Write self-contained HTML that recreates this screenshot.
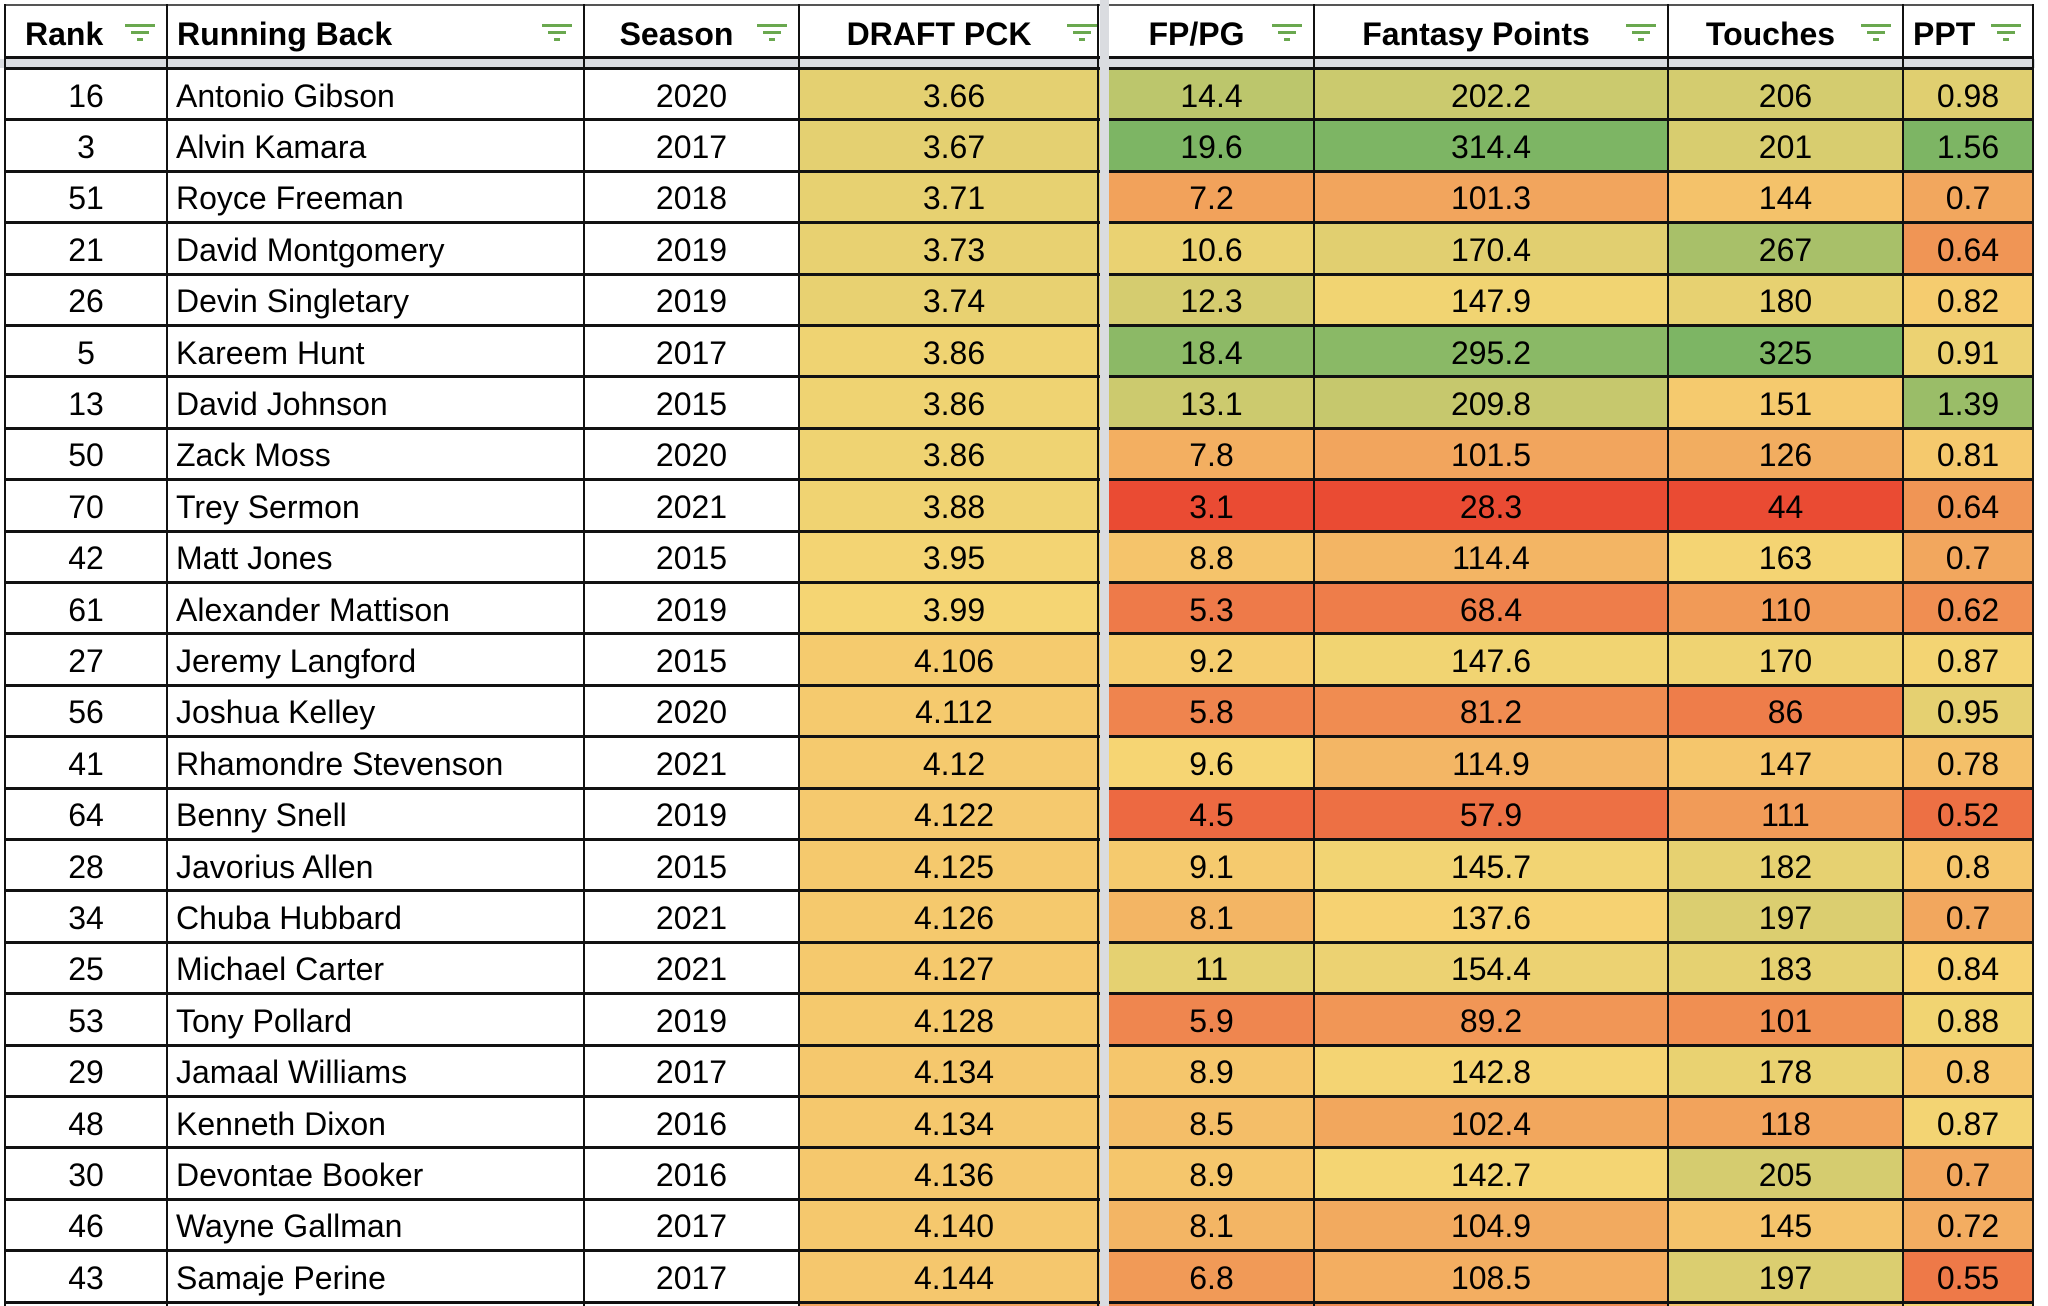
<!DOCTYPE html>
<html><head><meta charset="utf-8">
<style>
html,body{margin:0;padding:0;background:#fff;}
#wrap{position:relative;width:2048px;height:1306px;overflow:hidden;font-family:"Liberation Sans",Arial,sans-serif;color:#000;}
.cell{position:absolute;box-sizing:border-box;display:flex;align-items:center;font-size:32px;white-space:nowrap;overflow:hidden;}
.hd{font-weight:bold;font-size:32px;}
.hl{position:absolute;background:#111;}
</style></head>
<body>
<div id="wrap"></div>
<script>
const colNames=["Rank","Running Back","Season","DRAFT PCK","FP/PG","Fantasy Points","Touches","PPT"];
const ranks=[16,3,51,21,26,5,13,50,70,42,61,27,56,41,64,28,34,25,53,29,48,30,46,43];
const players=["Antonio Gibson","Alvin Kamara","Royce Freeman","David Montgomery","Devin Singletary","Kareem Hunt","David Johnson","Zack Moss","Trey Sermon","Matt Jones","Alexander Mattison","Jeremy Langford","Joshua Kelley","Rhamondre Stevenson","Benny Snell","Javorius Allen","Chuba Hubbard","Michael Carter","Tony Pollard","Jamaal Williams","Kenneth Dixon","Devontae Booker","Wayne Gallman","Samaje Perine"];
const seasons=[2020,2017,2018,2019,2019,2017,2015,2020,2021,2015,2019,2015,2020,2021,2019,2015,2021,2021,2019,2017,2016,2016,2017,2017];
const draftPck=["3.66","3.67","3.71","3.73","3.74","3.86","3.86","3.86","3.88","3.95","3.99","4.106","4.112","4.12","4.122","4.125","4.126","4.127","4.128","4.134","4.134","4.136","4.140","4.144"];
const fppg=[14.4,19.6,7.2,10.6,12.3,18.4,13.1,7.8,3.1,8.8,5.3,9.2,5.8,9.6,4.5,9.1,8.1,11,5.9,8.9,8.5,8.9,8.1,6.8];
const fpts=[202.2,314.4,101.3,170.4,147.9,295.2,209.8,101.5,28.3,114.4,68.4,147.6,81.2,114.9,57.9,145.7,137.6,154.4,89.2,142.8,102.4,142.7,104.9,108.5];
const touches=[206,201,144,267,180,325,151,126,44,163,110,170,86,147,111,182,197,183,101,178,118,205,145,197];
const ppt=[0.98,1.56,0.7,0.64,0.82,0.91,1.39,0.81,0.64,0.7,0.62,0.87,0.95,0.78,0.52,0.8,0.7,0.84,0.88,0.8,0.87,0.7,0.72,0.55];

const colX=[5,167,584,799,1109,1314,1668,1903,2033];
const rowTop=68, rowH=51.4;
const RED=[234,75,51],YEL=[246,213,115],GRN=[125,181,100];
function mix(a,b,t){return 'rgb('+a.map((v,i)=>Math.round(v+(b[i]-v)*t)).join(',')+')';}
function scale(v,lo,mid,hi){
  if(lo<hi){ if(v<=mid) return mix(RED,YEL,Math.max(0,(v-lo)/(mid-lo))); return mix(YEL,GRN,Math.min(1,(v-mid)/(hi-mid))); }
  if(v>=mid) return mix(YEL,RED,Math.min(1,(v-mid)/(lo-mid))); return mix(YEL,GRN,Math.min(1,(mid-v)/(mid-hi)));
}
const wrap=document.getElementById('wrap');
function div(cls,style,text){const d=document.createElement('div');d.className=cls;Object.assign(d.style,style);if(text!==undefined)d.textContent=text;wrap.appendChild(d);return d;}

colNames.forEach((n,i)=>{
  const x=colX[i],w=colX[i+1]-x;
  const d=div('cell hd',{left:x+'px',top:'5px',width:w+'px',height:'52px',paddingTop:'6px',paddingLeft:(i==1?'10px':'0'),justifyContent:(i==1?'flex-start':'center'),paddingRight:(i==1?'0':'30px')},n);
  if(i==0)d.style.justifyContent='flex-start',d.style.paddingLeft='20px';
  if(i==7)d.style.justifyContent='flex-start',d.style.paddingLeft='10px';
  
  
  const f=document.createElementNS('http://www.w3.org/2000/svg','svg');
  f.setAttribute('width','30');f.setAttribute('height','26');
  f.style.position='absolute';f.style.left=(x+w-42)+'px';f.style.top='22px';
  f.innerHTML='<rect x="0" y="2" width="30" height="3" fill="#6aa84f"/><rect x="6" y="9" width="18" height="3" fill="#6aa84f"/><rect x="12" y="16" width="6" height="3" fill="#6aa84f"/>';
  
  
  wrap.appendChild(f);
});
div('hl',{left:'4px',top:'4px',width:'2030px',height:'2px',background:'#555'});
div('hl',{left:'4px',top:'56px',width:'2030px',height:'3px'});
div('hl',{left:'0',top:'59px',width:'2048px',height:'9px',background:'#dadce0'});

for(let r=0;r<ranks.length+1;r++){
  const y=rowTop+r*rowH;
  const vals=r<ranks.length?[ranks[r],players[r],seasons[r],draftPck[r],fppg[r],fpts[r],touches[r],ppt[r]]:['','','','','','','',''];
  const bgs=r<ranks.length?['#fff','#fff','#fff',scale(parseFloat(draftPck[r]),5.44,4.0,1.73),scale(fppg[r],3.1,9.6,19.6),scale(fpts[r],28.3,140,314.4),scale(touches[r],44,160,325),scale(ppt[r],0.4,0.85,1.56)]:['#fff','#fff','#fff','#f3a55f','#ef8c52','#ef8c52','#f4c56d','#f6d573'];
  for(let c=0;c<8;c++){
    const x=colX[c],w=colX[c+1]-x;
    const d=div('cell',{left:x+'px',top:y+'px',width:w+'px',height:rowH+'px',background:bgs[c],justifyContent:c==1?'flex-start':'center',paddingLeft:c==1?'9px':'0',paddingTop:'5px'},String(vals[c]));
    
    
  }
  div('hl',{left:'4px',top:(y-1)+'px',width:'2030px',height:'3px'});
}
colX.forEach((x,i)=>{ if(i==4) return; div('hl',{left:(x-1)+'px',top:'4px',width:'2px',height:'1302px'}); });
div('hl',{left:'1097px',top:'4px',width:'2px',height:'1302px'});
div('hl',{left:'1100px',top:'0',width:'9px',height:'1306px',background:'#dadce0'});
div('hl',{left:'2035px',top:'0',width:'13px',height:'1306px',background:'#fff'});
</script>
</body></html>
